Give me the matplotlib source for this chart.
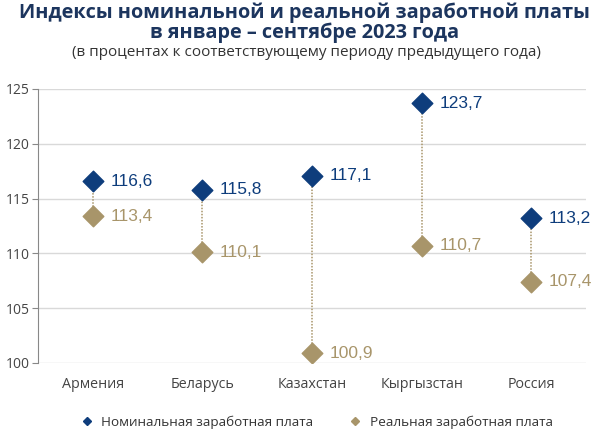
import matplotlib
matplotlib.use('Agg')
import matplotlib.pyplot as plt
import matplotlib.lines as mlines

countries = ['Армения', 'Беларусь', 'Казахстан', 'Кыргызстан', 'Россия']
nominal = [116.6, 115.8, 117.1, 123.7, 113.2]
real = [113.4, 110.1, 100.9, 110.7, 107.4]
yticks = [100, 105, 110, 115, 120, 125]

navy = '#0e3d7c'
tan = '#a8956a'
title_col = '#1c355e'

fig = plt.figure(figsize=(6, 4.32), dpi=100)
ax = fig.add_axes([0.063, 0.160, 0.914, 0.634])

x = list(range(len(countries)))
# dotted connectors
for i in x:
    ax.plot([i, i], [real[i], nominal[i]], color=tan, linestyle=(0, (1, 1)), linewidth=1.1, zorder=2)

ax.scatter(x, nominal, marker='D', s=110, color=navy, zorder=3)
ax.scatter(x, real, marker='D', s=110, color=tan, zorder=3)

for i in x:
    ax.text(i + 0.16, nominal[i], str(nominal[i]).replace('.', ','), color=navy,
            fontsize=12.5, va='center', ha='left', family='Liberation Sans')
    ax.text(i + 0.16, real[i], str(real[i]).replace('.', ','), color=tan,
            fontsize=12.5, va='center', ha='left', family='Liberation Sans')

ax.set_xlim(-0.5, 4.5)
ax.set_ylim(100, 125)
ax.set_yticks(yticks)
ax.set_yticklabels([str(t) for t in yticks], fontsize=10, color='#444444', family='Open Sans')
ax.set_xticks(x)
ax.set_xticklabels(countries, fontsize=10.3, color='#444444', family='Open Sans')
ax.tick_params(axis='x', length=0, pad=10)
ax.tick_params(axis='y', length=4, color='#888888', pad=2)
ax.grid(axis='y', color='#d9d9d9', linewidth=1)
ax.set_axisbelow(True)
for s in ['top', 'right', 'bottom']:
    ax.spines[s].set_visible(False)
ax.spines['left'].set_color('#888888')

fig.text(0.508, 0.995, 'Индексы номинальной и реальной заработной платы\nв январе – сентябре 2023 года',
         ha='center', va='top', fontsize=14.3, fontweight='bold', color=title_col,
         family='Open Sans', linespacing=1.02)
fig.text(0.51, 0.895, '(в процентах к соответствующему периоду предыдущего года)',
         ha='center', va='top', fontsize=11, color='#333333', family='Open Sans')

h1 = mlines.Line2D([], [], color=navy, marker='D', linestyle='none', markersize=4,
                   label='Номинальная заработная плата')
h2 = mlines.Line2D([], [], color=tan, marker='D', linestyle='none', markersize=4,
                   label='Реальная заработная плата')
leg = fig.legend(handles=[h1, h2], loc='center', bbox_to_anchor=(0.522, 0.023), ncol=2,
                 frameon=False, handletextpad=0.1, columnspacing=2.1,
                 prop={'family': 'Open Sans', 'size': 9.7})
for t in leg.get_texts():
    t.set_color('#333333')

fig.savefig('out.png', dpi=100)
